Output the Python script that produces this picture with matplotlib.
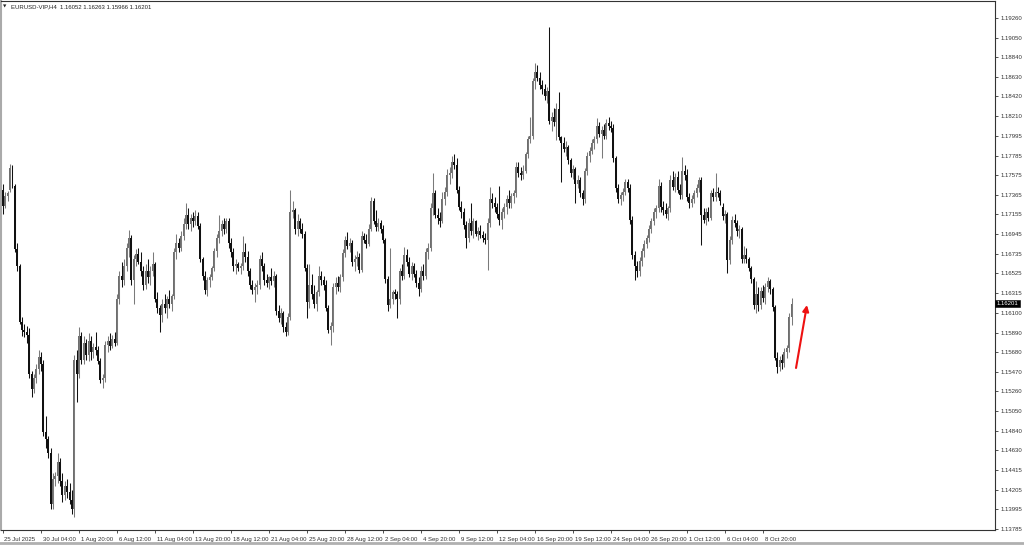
import matplotlib
matplotlib.use("Agg")
import matplotlib.pyplot as plt
from matplotlib.lines import Line2D
import matplotlib.transforms as mtransforms
import numpy as np

plt.rcParams['font.family'] = ['Liberation Sans', 'DejaVu Sans']

symbol = "EURUSD-VIP,H4"

# H4 bars, 25 Jul 2025 12:00 .. 10 Oct 2025 20:00
opens = [
 1.1742,1.1725,1.1735,1.1742,1.1763,1.1746,1.1678,1.1660,1.1600,1.1592,
 1.1590,1.1586,1.1545,1.1528,1.1540,1.1550,1.1563,1.1555,1.1482,1.1475,
 1.1460,1.1405,1.1432,1.1435,1.1450,1.1430,1.1415,1.1425,1.1418,1.1410,
 1.1400,1.1560,1.1545,1.1585,1.1560,1.1578,1.1565,1.1580,1.1568,1.1573,
 1.1570,1.1558,1.1538,1.1540,1.1576,1.1580,1.1575,1.1582,1.1578,1.1625,
 1.1650,1.1645,1.1660,1.1680,1.1690,1.1645,1.1668,1.1673,1.1665,1.1655,
 1.1640,1.1655,1.1648,1.1655,1.1662,1.1625,1.1615,1.1608,1.1620,1.1615,
 1.1625,1.1620,1.1628,1.1675,1.1685,1.1680,1.1692,1.1705,1.1715,1.1705,
 1.1712,1.1708,1.1714,1.1703,1.1668,1.1650,1.1635,1.1645,1.1648,1.1658,
 1.1676,1.1690,1.1698,1.1705,1.1700,1.1708,1.1685,1.1675,1.1660,1.1662,
 1.1658,1.1660,1.1675,1.1670,1.1655,1.1640,1.1635,1.1638,1.1640,1.1668,
 1.1660,1.1645,1.1642,1.1648,1.1644,1.1650,1.1612,1.1605,1.1610,1.1595,
 1.1590,1.1606,1.1718,1.1720,1.1700,1.1708,1.1700,1.1695,1.1658,1.1622,
 1.1640,1.1630,1.1620,1.1632,1.1650,1.1645,1.1640,1.1615,1.1592,1.1596,
 1.1638,1.1642,1.1638,1.1648,1.1674,1.1688,1.1682,1.1685,1.1665,1.1668,
 1.1670,1.1656,1.1692,1.1688,1.1684,1.1700,1.1730,1.1708,1.1702,1.1706,
 1.1700,1.1688,1.1646,1.1618,1.1625,1.1632,1.1630,1.1625,1.1655,1.1650,
 1.1672,1.1665,1.1652,1.1660,1.1652,1.1642,1.1636,1.1655,1.1650,1.1675,
 1.1680,1.1722,1.1738,1.1715,1.1712,1.1708,1.1732,1.1740,1.1758,1.1760,
 1.1772,1.1768,1.1742,1.1724,1.1718,1.1704,1.1690,1.1706,1.1698,1.1708,
 1.1695,1.1698,1.1694,1.1690,1.1688,1.1706,1.1732,1.1728,1.1724,1.1716,
 1.1710,1.1718,1.1724,1.1732,1.1728,1.1735,1.1738,1.1766,1.1760,1.1758,
 1.1762,1.1780,1.1796,1.1800,1.1858,1.1868,1.1862,1.1854,1.1850,1.1842,
 1.1848,1.1816,1.1820,1.1815,1.1828,1.1798,1.1792,1.1786,1.1788,1.1774,
 1.1760,1.1764,1.1748,1.1752,1.1738,1.1732,1.1762,1.1778,1.1784,1.1792,
 1.1796,1.1810,1.1802,1.1806,1.1800,1.1814,1.1810,1.1808,1.1776,1.1744,
 1.1732,1.1736,1.1740,1.1750,1.1744,1.1710,1.1672,1.1660,1.1655,1.1666,
 1.1676,1.1684,1.1690,1.1700,1.1708,1.1718,1.1722,1.1746,1.1724,1.1720,
 1.1716,1.1722,1.1752,1.1745,1.1756,1.1742,1.1736,1.1762,1.1758,1.1734,
 1.1728,1.1732,1.1738,1.1744,1.1752,1.1715,1.1710,1.1718,1.1712,1.1738,
 1.1734,1.1740,1.1738,1.1724,1.1714,1.1716,1.1667,1.1688,1.1710,1.1706,
 1.1698,1.1700,1.1668,1.1672,1.1668,1.1658,1.1646,1.1618,1.1630,1.1618,
 1.1634,1.1626,1.1638,1.1644,1.1636,1.1616,1.1562,1.1552,1.1560,1.1556,
 1.1568,1.1572,1.16052,
]
highs = [
 1.1748,1.1740,1.1741,1.1770,1.1769,1.1748,1.1685,1.1662,1.1606,1.1598,
 1.1596,1.1594,1.1548,1.1545,1.1555,1.1570,1.1568,1.1560,1.1500,1.1478,
 1.1465,1.1438,1.1440,1.1460,1.1455,1.1438,1.1430,1.1432,1.1428,1.1420,
 1.1565,1.1570,1.1595,1.1590,1.1585,1.1582,1.1588,1.1585,1.1578,1.1590,
 1.1575,1.1562,1.1545,1.1580,1.1585,1.1588,1.1586,1.1590,1.1630,1.1655,
 1.1665,1.1668,1.1685,1.1699,1.1694,1.1672,1.1678,1.1680,1.1675,1.1660,
 1.1662,1.1668,1.1660,1.1675,1.1665,1.1632,1.1618,1.1625,1.1630,1.1628,
 1.1635,1.1630,1.1680,1.1695,1.1690,1.1698,1.1712,1.1728,1.1722,1.1716,
 1.1718,1.1720,1.1718,1.1706,1.1670,1.1655,1.1648,1.1652,1.1660,1.1680,
 1.1695,1.1715,1.1710,1.1712,1.1712,1.1712,1.1690,1.1680,1.1668,1.1665,
 1.1664,1.1692,1.1685,1.1676,1.1658,1.1645,1.1642,1.1645,1.1672,1.1675,
 1.1664,1.1652,1.1650,1.1658,1.1655,1.1652,1.1618,1.1615,1.1612,1.1600,
 1.1610,1.1742,1.1730,1.1722,1.1716,1.1712,1.1706,1.1698,1.1662,1.1662,
 1.1652,1.1640,1.1635,1.1660,1.1655,1.1650,1.1645,1.1618,1.1600,1.1642,
 1.1648,1.1650,1.1652,1.1678,1.1692,1.1697,1.1690,1.1688,1.1672,1.1676,
 1.1674,1.1698,1.1696,1.1695,1.1705,1.1734,1.1733,1.1720,1.1712,1.1710,
 1.1704,1.1690,1.1650,1.1680,1.1635,1.1636,1.1633,1.1658,1.1662,1.1681,
 1.1678,1.1670,1.1665,1.1664,1.1656,1.1648,1.1660,1.1662,1.1680,1.1685,
 1.1728,1.1760,1.1742,1.1722,1.1718,1.1740,1.1745,1.1764,1.1766,1.1778,
 1.1780,1.1776,1.1746,1.1730,1.1722,1.1708,1.1712,1.1728,1.1712,1.1710,
 1.1702,1.1704,1.1698,1.1696,1.1712,1.1745,1.1738,1.1734,1.1728,1.1746,
 1.1722,1.1728,1.1736,1.1742,1.1738,1.1742,1.1772,1.1772,1.1766,1.1768,
 1.1782,1.1800,1.1820,1.1862,1.1878,1.1876,1.1868,1.1860,1.1855,1.1852,
 1.1916,1.1825,1.1830,1.1835,1.1847,1.1800,1.1798,1.1794,1.1790,1.1776,
 1.1768,1.1766,1.1758,1.1756,1.1742,1.1765,1.1782,1.1788,1.1796,1.1800,
 1.1819,1.1815,1.1810,1.1812,1.1818,1.1820,1.1816,1.1812,1.1778,1.1748,
 1.1740,1.1744,1.1754,1.1754,1.1748,1.1714,1.1676,1.1666,1.1670,1.1680,
 1.1688,1.1694,1.1704,1.1712,1.1722,1.1726,1.1754,1.1750,1.1730,1.1728,
 1.1725,1.1758,1.1762,1.1760,1.1762,1.1748,1.1777,1.1768,1.1764,1.1738,
 1.1736,1.1742,1.1748,1.1756,1.1756,1.1722,1.1722,1.1724,1.1742,1.1744,
 1.1760,1.1745,1.1742,1.1728,1.1720,1.1718,1.1692,1.1714,1.1716,1.1710,
 1.1704,1.1702,1.1682,1.1680,1.1670,1.1660,1.1648,1.1644,1.1638,1.1638,
 1.1640,1.1642,1.1648,1.1646,1.1638,1.1618,1.1568,1.1564,1.1566,1.1572,
 1.1576,1.1610,1.16263,
]
lows = [
 1.1716,1.1722,1.1730,1.1740,1.1744,1.1675,1.1655,1.1598,1.1585,1.1584,
 1.1578,1.1540,1.1520,1.1524,1.1535,1.1545,1.1548,1.1478,1.1465,1.1455,
 1.1400,1.1400,1.1425,1.1428,1.1425,1.1407,1.1410,1.1412,1.1405,1.1395,
 1.1391,1.1515,1.1540,1.1555,1.1555,1.1560,1.1558,1.1560,1.1562,1.1565,
 1.1555,1.1535,1.1530,1.1536,1.1568,1.1570,1.1572,1.1575,1.1576,1.1620,
 1.1638,1.1640,1.1655,1.1670,1.1640,1.1620,1.1660,1.1662,1.1650,1.1635,
 1.1636,1.1642,1.1640,1.1650,1.1622,1.1610,1.1590,1.1600,1.1610,1.1605,
 1.1615,1.1612,1.1625,1.1668,1.1675,1.1676,1.1688,1.1700,1.1700,1.1698,
 1.1702,1.1704,1.1700,1.1665,1.1645,1.1630,1.1628,1.1638,1.1645,1.1655,
 1.1670,1.1685,1.1692,1.1695,1.1696,1.1680,1.1670,1.1655,1.1652,1.1655,
 1.1652,1.1656,1.1665,1.1650,1.1636,1.1630,1.1622,1.1630,1.1636,1.1655,
 1.1640,1.1638,1.1636,1.1640,1.1638,1.1608,1.1600,1.1598,1.1590,1.1585,
 1.1586,1.1602,1.1712,1.1695,1.1692,1.1696,1.1690,1.1655,1.1605,1.1615,
 1.1625,1.1615,1.1612,1.1628,1.1640,1.1635,1.1612,1.1588,1.1576,1.1590,
 1.1630,1.1634,1.1632,1.1644,1.1670,1.1678,1.1675,1.1660,1.1655,1.1660,
 1.1653,1.1654,1.1685,1.1680,1.1682,1.1698,1.1705,1.1698,1.1698,1.1696,
 1.1685,1.1642,1.1612,1.1615,1.1620,1.1625,1.1605,1.1620,1.1645,1.1646,
 1.1660,1.1648,1.1645,1.1648,1.1638,1.1628,1.1632,1.1645,1.1646,1.1668,
 1.1676,1.1715,1.1712,1.1705,1.1702,1.1706,1.1726,1.1735,1.1748,1.1755,
 1.1764,1.1738,1.1720,1.1712,1.1700,1.1680,1.1686,1.1694,1.1690,1.1692,
 1.1688,1.1690,1.1686,1.1684,1.1656,1.1702,1.1722,1.1718,1.1712,1.1704,
 1.1700,1.1712,1.1716,1.1722,1.1722,1.1728,1.1734,1.1756,1.1752,1.1754,
 1.1760,1.1776,1.1792,1.1796,1.1850,1.1858,1.1850,1.1845,1.1838,1.1835,
 1.1812,1.1805,1.1810,1.1795,1.1795,1.1750,1.1782,1.1778,1.1770,1.1756,
 1.1754,1.1728,1.1744,1.1734,1.1726,1.1728,1.1758,1.1772,1.1780,1.1786,
 1.1792,1.1798,1.1776,1.1796,1.1796,1.1806,1.1804,1.1772,1.1740,1.1728,
 1.1726,1.1730,1.1736,1.1740,1.1705,1.1668,1.1645,1.1648,1.1650,1.1660,
 1.1670,1.1680,1.1686,1.1696,1.1704,1.1712,1.1718,1.1718,1.1715,1.1712,
 1.1710,1.1718,1.1742,1.1740,1.1738,1.1732,1.1732,1.1752,1.1730,1.1722,
 1.1724,1.1728,1.1734,1.1740,1.1683,1.1706,1.1704,1.1708,1.1710,1.1730,
 1.1730,1.1734,1.1726,1.1710,1.1706,1.1653,1.1662,1.1684,1.1702,1.1692,
 1.1690,1.1664,1.1664,1.1664,1.1655,1.1642,1.1614,1.1610,1.1612,1.1614,
 1.1622,1.1620,1.1632,1.1630,1.1612,1.1560,1.1546,1.1548,1.1550,1.1552,
 1.1562,1.1568,1.15966,
]
closes = [
 1.1725,1.1735,1.1738,1.1765,1.1746,1.1678,1.1660,1.1600,1.1592,1.1590,
 1.1586,1.1545,1.1528,1.1540,1.1550,1.1563,1.1555,1.1482,1.1475,1.1460,
 1.1405,1.1432,1.1435,1.1450,1.1430,1.1415,1.1425,1.1418,1.1410,1.1400,
 1.1560,1.1545,1.1585,1.1560,1.1578,1.1565,1.1580,1.1568,1.1573,1.1570,
 1.1558,1.1538,1.1540,1.1576,1.1580,1.1575,1.1582,1.1578,1.1625,1.1650,
 1.1645,1.1660,1.1680,1.1690,1.1645,1.1668,1.1673,1.1665,1.1655,1.1640,
 1.1655,1.1648,1.1655,1.1662,1.1625,1.1615,1.1608,1.1620,1.1615,1.1625,
 1.1620,1.1628,1.1675,1.1685,1.1680,1.1692,1.1705,1.1715,1.1705,1.1712,
 1.1708,1.1714,1.1703,1.1668,1.1650,1.1635,1.1645,1.1648,1.1658,1.1676,
 1.1690,1.1698,1.1705,1.1700,1.1708,1.1685,1.1675,1.1660,1.1662,1.1658,
 1.1660,1.1675,1.1670,1.1655,1.1640,1.1635,1.1638,1.1640,1.1668,1.1660,
 1.1645,1.1642,1.1648,1.1644,1.1650,1.1612,1.1605,1.1610,1.1595,1.1590,
 1.1606,1.1718,1.1720,1.1700,1.1708,1.1700,1.1695,1.1658,1.1622,1.1640,
 1.1630,1.1620,1.1632,1.1650,1.1645,1.1640,1.1615,1.1592,1.1596,1.1638,
 1.1642,1.1638,1.1648,1.1674,1.1688,1.1682,1.1685,1.1665,1.1668,1.1670,
 1.1656,1.1692,1.1688,1.1684,1.1700,1.1730,1.1708,1.1702,1.1706,1.1700,
 1.1688,1.1646,1.1618,1.1625,1.1632,1.1630,1.1625,1.1655,1.1650,1.1672,
 1.1665,1.1652,1.1660,1.1652,1.1642,1.1636,1.1655,1.1650,1.1675,1.1680,
 1.1722,1.1738,1.1715,1.1712,1.1708,1.1732,1.1740,1.1758,1.1760,1.1772,
 1.1768,1.1742,1.1724,1.1718,1.1704,1.1690,1.1706,1.1698,1.1708,1.1695,
 1.1698,1.1694,1.1690,1.1688,1.1706,1.1732,1.1728,1.1724,1.1716,1.1710,
 1.1718,1.1724,1.1732,1.1728,1.1735,1.1738,1.1766,1.1760,1.1758,1.1762,
 1.1780,1.1796,1.1800,1.1858,1.1868,1.1862,1.1854,1.1850,1.1842,1.1848,
 1.1816,1.1820,1.1815,1.1828,1.1798,1.1792,1.1786,1.1788,1.1774,1.1760,
 1.1764,1.1748,1.1752,1.1738,1.1732,1.1762,1.1778,1.1784,1.1792,1.1796,
 1.1810,1.1802,1.1806,1.1800,1.1814,1.1810,1.1808,1.1776,1.1744,1.1732,
 1.1736,1.1740,1.1750,1.1744,1.1710,1.1672,1.1660,1.1655,1.1666,1.1676,
 1.1684,1.1690,1.1700,1.1708,1.1718,1.1722,1.1746,1.1724,1.1720,1.1716,
 1.1722,1.1752,1.1745,1.1756,1.1742,1.1736,1.1762,1.1758,1.1734,1.1728,
 1.1732,1.1738,1.1744,1.1752,1.1715,1.1710,1.1718,1.1712,1.1738,1.1734,
 1.1740,1.1738,1.1730,1.1714,1.1716,1.1667,1.1688,1.1710,1.1706,1.1698,
 1.1700,1.1668,1.1672,1.1668,1.1658,1.1646,1.1618,1.1630,1.1618,1.1634,
 1.1626,1.1638,1.1644,1.1636,1.1616,1.1562,1.1552,1.1560,1.1556,1.1568,
 1.1572,1.16052,1.16201,
]

x_tick_bars = [0, 16, 32, 48, 64, 80, 96, 112, 128, 144, 160, 176, 192,
               208, 224, 240, 256, 272, 288, 304, 320]
x_tick_labels = ["25 Jul 2025", "30 Jul 04:00", "1 Aug 20:00", "6 Aug 12:00",
                 "11 Aug 04:00", "13 Aug 20:00", "18 Aug 12:00", "21 Aug 04:00",
                 "25 Aug 20:00", "28 Aug 12:00", "2 Sep 04:00", "4 Sep 20:00",
                 "9 Sep 12:00", "12 Sep 04:00", "16 Sep 20:00", "19 Sep 12:00",
                 "24 Sep 04:00", "26 Sep 20:00", "1 Oct 12:00", "6 Oct 04:00",
                 "8 Oct 20:00"]
y_tick_values = [1.19260, 1.19050, 1.18840, 1.18630, 1.18420, 1.18210, 1.17995,
                 1.17785, 1.17575, 1.17365, 1.17155, 1.16945, 1.16735, 1.16525,
                 1.16315, 1.16100, 1.15890, 1.15680, 1.15470, 1.15260, 1.15050,
                 1.14840, 1.14630, 1.14415, 1.14205, 1.13995, 1.13785]

o = np.array(opens); h = np.array(highs); l = np.array(lows); c = np.array(closes)
n = len(c)
x = np.arange(n)
bull = c >= o

W, H = 1024, 545
fig = plt.figure(figsize=(W / 100, H / 100), dpi=100)
fig.patch.set_facecolor('white')
ax = fig.add_axes([1 / W, 15 / H, 994 / W, 529 / H])

bull_col = '#6e6e6e'
bear_col = '#111111'
ax.vlines(x[bull], l[bull], h[bull], colors='#7a7a7a', linewidth=0.75)
ax.vlines(x[~bull], l[~bull], h[~bull], colors=bear_col, linewidth=0.75)
body_lo = np.minimum(o, c)
body_h = np.maximum(np.abs(c - o), 0.00006)
ax.bar(x[bull], body_h[bull], bottom=body_lo[bull], width=0.78,
       color=bull_col, linewidth=0)
ax.bar(x[~bull], body_h[~bull], bottom=body_lo[~bull], width=0.78,
       color=bear_col, linewidth=0)

ax.set_xlim(-0.842, 417.68)
ax.set_ylim(1.137742, 1.194421)

# axes styling
for s in ax.spines.values():
    s.set_color('#333333')
    s.set_linewidth(0.8)
ax.spines['left'].set_color('#aaaaaa')
ax.spines['left'].set_linewidth(1.5)

ax.yaxis.tick_right()
ax.set_yticks(y_tick_values)
ax.set_yticklabels([f"{v:.5f}" for v in y_tick_values])
ax.tick_params(axis='y', direction='out', length=2.5, width=0.6,
               colors='#333333', labelsize=4.3, pad=1.5)

ax.set_xticks(x_tick_bars)
ax.set_xticklabels(x_tick_labels)
ax.tick_params(axis='x', direction='out', length=2.5, width=0.6,
               colors='#333333', labelsize=4.3, pad=2.2)
offset = mtransforms.ScaledTranslation(1.5 / 100, 0, fig.dpi_scale_trans)
for lab in ax.get_xticklabels():
    lab.set_horizontalalignment('left')
    lab.set_transform(lab.get_transform() + offset)

# current price marker on the price scale
trans = mtransforms.blended_transform_factory(ax.transAxes, ax.transData)
ax.text(1.0015, c[-1], f"{c[-1]:.5f}", transform=trans, fontsize=4.3,
        color='white', ha='left', va='center', clip_on=False,
        bbox=dict(boxstyle='square,pad=0.25', facecolor='black',
                  edgecolor='black', linewidth=0.4))

# header line
fig.text(5 / W, 1 - 7 / H, "\u25bc", fontsize=3.2, color='#222222',
         ha='center', va='center', family='DejaVu Sans')
fig.text(11 / W, 1 - 7 / H,
         f"{symbol}  {o[-1]:.5f} {h[-1]:.5f} {l[-1]:.5f} {c[-1]:.5f}",
         fontsize=4.3, color='#222222', ha='left', va='center')

# red arrow after last bar
ax.annotate('', xy=(n - 1 + 6.5, 1.16185), xytext=(n - 1 + 1.9, 1.1551),
            arrowprops=dict(arrowstyle='-|>', color='#ee1111', lw=1.5,
                            mutation_scale=9, shrinkA=0, shrinkB=0))

# window bottom border
fig.add_artist(Line2D([0, 1], [2.5 / H, 2.5 / H], transform=fig.transFigure,
                      color='#b0b0b0', linewidth=2))

fig.savefig('out.png', dpi=100, facecolor='white')
